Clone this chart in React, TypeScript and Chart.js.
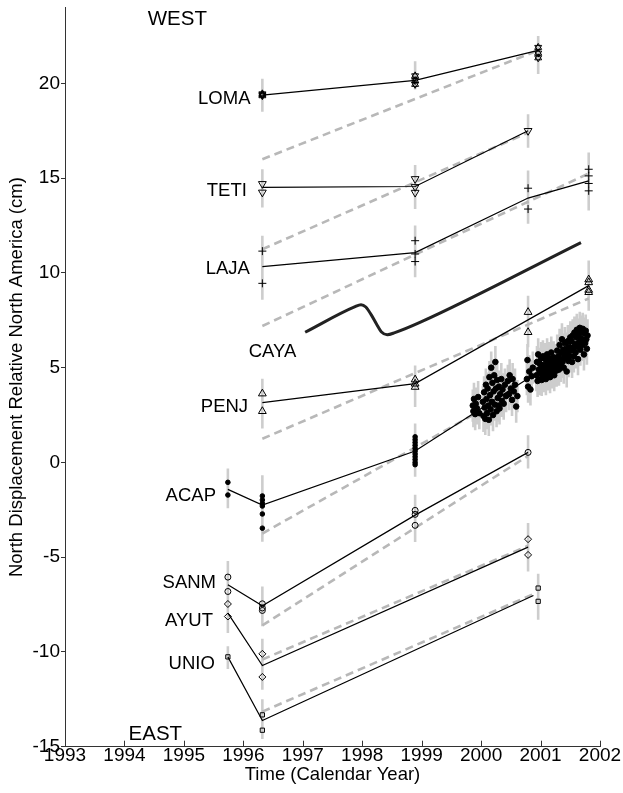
import React, { useEffect, useRef } from "react";
import { Chart, registerables } from "chart.js";

Chart.register(...registerables);

const FONT = '"Liberation Sans", Arial, Helvetica, sans-serif';
const AXIS_COLOR = "#333333";

// ---------- axes ----------
const X_MIN = 1993;
const X_MAX = 2002;
const Y_MIN = -15;
const Y_MAX = 24;
const Y_STEP = 5;
const X_TITLE = "Time (Calendar Year)";
const Y_TITLE = "North Displacement Relative North America (cm)";

// ---------- data: [year, north cm] ----------
const lomaObs = [
  [1996.32, 19.45], [1996.32, 19.35], [1996.32, 19.4],
  [1998.89, 20.4], [1998.89, 20.15], [1998.89, 19.95],
  [2000.96, 21.9], [2000.96, 21.6], [2000.96, 21.35],
];
const lomaModel = [[1996.32, 19.38], [1998.89, 20.16], [2000.96, 21.74]];
const lomaRef = [[1996.32, 16.0], [2000.9, 21.67]];
const lomaErr = [[1996.32, 18.5, 20.25], [1998.89, 19.68, 21.17], [2000.96, 20.5, 22.5]];

const tetiObs = [
  [1996.32, 14.7], [1996.32, 14.25],
  [1998.89, 14.96], [1998.89, 14.54], [1998.89, 14.24],
  [2000.79, 17.5],
];
const tetiModel = [[1996.32, 14.51], [1998.89, 14.56], [2000.79, 17.5]];
const tetiRef = [[1996.32, 11.25], [2000.79, 17.4]];
const tetiErr = [[1996.32, 13.45, 15.47], [1998.89, 13.37, 15.7], [2000.79, 16.6, 18.37]];

const lajaObs = [
  [1996.32, 11.15], [1996.32, 9.45],
  [1998.89, 11.7], [1998.89, 11.0], [1998.89, 10.6],
  [2000.79, 14.47], [2000.79, 13.37],
  [2001.81, 15.47], [2001.81, 15.12], [2001.81, 14.72], [2001.81, 14.33],
];
const lajaModel = [[1996.32, 10.33], [1998.89, 11.07], [2000.79, 13.95], [2001.81, 14.86]];
const lajaRef = [[1996.32, 7.2], [2001.81, 15.25]];
const lajaErr = [[1996.32, 8.58, 11.96], [1998.89, 9.77, 12.5], [2000.79, 12.6, 15.4], [2001.81, 13.3, 16.35]];

const cayaCurve = [
  [1997.04, 6.87], [1997.88, 8.22], [1997.98, 8.32], [1998.06, 8.2], [1998.15, 7.8],
  [1998.24, 7.3], [1998.32, 6.9], [1998.42, 6.74], [1998.55, 6.85], [1998.98, 7.4],
  [2001.68, 11.6],
];

const penjObs = [
  [1996.32, 3.63], [1996.32, 2.7],
  [1998.89, 4.37], [1998.89, 4.15], [1998.89, 3.98],
  [2000.79, 7.93], [2000.79, 6.87],
  [2001.81, 9.65], [2001.81, 9.5], [2001.81, 9.1], [2001.81, 8.98],
];
const penjModel = [[1996.32, 3.16], [1998.89, 4.16], [2001.81, 9.33]];
const penjRef = [[1996.32, 1.25], [2001.81, 8.65]];
const penjErr = [[1996.32, 1.79, 4.42], [1998.89, 2.93, 5.12], [2000.79, 6.08, 8.8], [2001.81, 8.0, 10.65]];

const acapObs = [
  [1995.74, -1.05], [1995.74, -1.72],
  [1996.32, -1.77], [1996.32, -1.98], [1996.32, -2.16], [1996.32, -2.3], [1996.32, -2.72], [1996.32, -3.47],
  [1998.89, 1.35], [1998.89, 1.2], [1998.89, 1.05], [1998.89, 0.9], [1998.89, 0.75], [1998.89, 0.6],
  [1998.89, 0.45], [1998.89, 0.3], [1998.89, 0.15], [1998.89, 0.0], [1998.89, -0.12],
];
const acapModel = [[1995.74, -1.42], [1996.32, -2.25], [1998.89, 0.6], [2001.0, 4.85]];
const acapRef = [[1996.32, -3.75], [2000.0, 2.75]];
const acapErr = [[1995.74, -2.42, -0.32], [1996.32, -4.18, -0.67], [1998.89, -0.76, 2.05]];

// continuous GPS at ACAP
const acapCgps = [
  [1999.86, 3.0], [1999.87, 2.7], [1999.88, 3.35], [1999.9, 2.55], [1999.91, 3.1], [1999.93, 2.85], [1999.95, 3.45], [1999.97, 2.6],
  [2000.03, 3.2], [2000.04, 2.45], [2000.05, 3.7], [2000.06, 2.9], [2000.07, 2.3], [2000.08, 4.1], [2000.09, 3.35], [2000.1, 2.6],
  [2000.11, 3.9], [2000.12, 3.0], [2000.13, 2.25], [2000.14, 4.5], [2000.15, 3.55], [2000.16, 2.8], [2000.17, 5.0], [2000.18, 3.2],
  [2000.19, 4.2], [2000.2, 2.5], [2000.21, 3.75], [2000.22, 4.6], [2000.23, 3.05], [2000.24, 5.3], [2000.25, 3.9], [2000.26, 2.7],
  [2000.27, 4.35], [2000.28, 3.4], [2000.29, 3.0], [2000.3, 4.0], [2000.31, 2.85], [2000.32, 3.6], [2000.34, 4.4], [2000.35, 3.25],
  [2000.36, 3.85], [2000.38, 3.1], [2000.4, 4.1], [2000.42, 3.5],
  [2000.45, 4.3], [2000.47, 3.6], [2000.48, 4.6], [2000.5, 3.9], [2000.52, 3.3], [2000.53, 4.4], [2000.55, 3.75], [2000.57, 4.1],
  [2000.59, 2.95], [2000.61, 3.5],
  [2000.77, 4.4], [2000.78, 5.4], [2000.79, 4.0], [2000.81, 4.8], [2000.83, 3.85], [2000.85, 4.55], [2000.87, 5.0],
  [2000.93, 4.6], [2000.94, 5.3], [2000.95, 4.3], [2000.96, 5.7], [2000.97, 4.9], [2000.98, 4.4], [2000.99, 5.2], [2001.0, 4.7],
  [2001.01, 5.5], [2001.02, 4.35], [2001.03, 5.0], [2001.04, 5.6], [2001.05, 4.55], [2001.06, 5.15], [2001.07, 4.8], [2001.08, 5.45],
  [2001.09, 4.4], [2001.1, 5.0], [2001.11, 5.7], [2001.12, 4.65], [2001.13, 5.25], [2001.14, 4.9], [2001.15, 5.5], [2001.16, 4.5],
  [2001.17, 5.1], [2001.18, 5.8], [2001.19, 4.75], [2001.2, 5.3], [2001.21, 4.95], [2001.22, 5.55], [2001.23, 4.6], [2001.24, 5.2],
  [2001.25, 5.0], [2001.26, 5.4], [2001.27, 4.85], [2001.28, 5.9], [2001.29, 5.2], [2001.3, 5.6], [2001.31, 4.9], [2001.32, 6.2],
  [2001.33, 5.45], [2001.34, 5.1], [2001.35, 5.8], [2001.36, 6.5], [2001.37, 5.3], [2001.38, 5.95], [2001.39, 5.0], [2001.4, 5.65],
  [2001.41, 6.3], [2001.42, 5.5], [2001.43, 6.0], [2001.44, 4.8], [2001.45, 5.75], [2001.46, 6.4], [2001.47, 5.35], [2001.48, 6.1],
  [2001.49, 5.6], [2001.5, 6.6], [2001.51, 5.9], [2001.52, 6.4], [2001.53, 5.3], [2001.54, 6.7], [2001.55, 6.05], [2001.56, 5.6],
  [2001.57, 6.85], [2001.58, 6.25], [2001.59, 5.8], [2001.6, 6.6], [2001.61, 7.0], [2001.62, 6.1], [2001.63, 5.45], [2001.64, 6.75],
  [2001.65, 6.35], [2001.66, 7.1], [2001.67, 5.95], [2001.68, 6.55], [2001.69, 6.9], [2001.7, 6.2], [2001.71, 7.05], [2001.72, 6.45],
  [2001.73, 5.7], [2001.74, 6.8], [2001.75, 6.3], [2001.76, 6.95], [2001.77, 6.5], [2001.78, 6.0], [2001.79, 6.7],
];
const acapCgpsSigma = 0.85;

const sanmObs = [
  [1995.74, -6.05], [1995.74, -6.81],
  [1996.32, -7.46], [1996.32, -7.68], [1996.32, -7.81],
  [1998.89, -2.53], [1998.89, -2.74], [1998.89, -3.32],
  [2000.79, 0.53],
];
const sanmModel = [[1995.74, -6.46], [1996.32, -7.56], [1998.89, -2.78], [2000.79, 0.53]];
const sanmRef = [[1996.32, -8.6], [2000.79, 0.35]];
const sanmErr = [[1995.74, -7.5, -5.2], [1996.32, -8.65, -6.55], [1998.89, -4.2, -1.7], [2000.79, -0.32, 1.44]];

const ayutObs = [
  [1995.74, -7.47], [1995.74, -8.13],
  [1996.32, -10.1], [1996.32, -11.32],
  [2000.79, -4.05], [2000.79, -4.88],
];
const ayutModel = [[1995.74, -7.95], [1996.32, -10.72], [2000.79, -4.47]];
const ayutRef = [[1996.32, -10.4], [2000.79, -4.4]];
const ayutErr = [[1995.74, -9.0, -6.8], [1996.32, -12.0, -9.3], [2000.79, -5.76, -3.2]];

const unioObs = [
  [1995.74, -10.26],
  [1996.32, -13.32], [1996.32, -14.13],
  [2000.96, -6.63], [2000.96, -7.33],
];
const unioModel = [[1995.74, -10.26], [1996.32, -13.62], [2000.88, -7.02]];
const unioRef = [[1996.32, -13.15], [2000.88, -6.95]];
const unioErr = [[1995.74, -10.9, -9.7], [1996.32, -14.6, -12.5], [2000.96, -8.3, -5.88]];

// station names and their anchor (year, cm)
const stationLabels = [
  { text: "LOMA", year: 1996.12, value: 19.18, align: "right" },
  { text: "TETI", year: 1996.06, value: 14.31, align: "right" },
  { text: "LAJA", year: 1996.11, value: 10.19, align: "right" },
  { text: "CAYA", year: 1996.49, value: 5.84, align: "center" },
  { text: "PENJ", year: 1996.08, value: 2.93, align: "right" },
  { text: "ACAP", year: 1995.54, value: -1.77, align: "right" },
  { text: "SANM", year: 1995.54, value: -6.34, align: "right" },
  { text: "AYUT", year: 1995.49, value: -8.35, align: "right" },
  { text: "UNIO", year: 1995.52, value: -10.65, align: "right" },
];
const directionLabels = [
  { text: "WEST", year: 1994.89, value: 23.38, align: "center" },
  { text: "EAST", year: 1994.52, value: -14.35, align: "center" },
];

// ---------- helpers ----------
const pts = (arr: number[][]) => arr.map(([x, y]) => ({ x, y }));
const errPts = (arr: number[][]) =>
  arr.flatMap(([x, lo, hi]) => [{ x, y: lo }, { x, y: hi }, { x, y: null as any }]);

const allErr = [
  ...lomaErr, ...tetiErr, ...lajaErr, ...penjErr, ...acapErr, ...sanmErr, ...ayutErr, ...unioErr,
  ...acapCgps.map(([t, n]) => [t, n - acapCgpsSigma, n + acapCgpsSigma]),
];

const dashed = (arr: number[][]) => ({
  data: pts(arr),
  showLine: true,
  borderColor: "#b8b8b8",
  borderWidth: 2.6,
  borderDash: [8, 5],
  pointRadius: 0,
  order: 8,
});
const solid = (arr: number[][]) => ({
  data: pts(arr),
  showLine: true,
  borderColor: "#000000",
  borderWidth: 1.2,
  pointRadius: 0,
  order: 5,
});
const markers = (arr: number[][], style: string, radius: number, rotation = 0, fill = "rgba(0,0,0,0)") => ({
  data: pts(arr),
  showLine: false,
  pointStyle: style,
  pointRadius: radius,
  pointRotation: rotation,
  pointBorderColor: "#000000",
  pointBorderWidth: 1,
  pointBackgroundColor: fill,
  order: 1,
});

const overlayPlugin = {
  id: "overlay",
  afterDatasetsDraw(chart: any) {
    const { ctx, chartArea, scales } = chart;
    const x = scales.x;
    const y = scales.y;
    ctx.save();
    ctx.strokeStyle = AXIS_COLOR;
    ctx.lineWidth = 1;
    x.ticks.forEach((t: any) => {
      const px = Math.round(x.getPixelForValue(t.value)) + 0.5;
      ctx.beginPath();
      ctx.moveTo(px, chartArea.bottom);
      ctx.lineTo(px, chartArea.bottom - 6);
      ctx.stroke();
    });
    ctx.fillStyle = "#000000";
    ctx.textBaseline = "middle";
    ctx.font = `18.5px ${FONT}`;
    stationLabels.forEach((l) => {
      ctx.textAlign = l.align;
      ctx.fillText(l.text, x.getPixelForValue(l.year), y.getPixelForValue(l.value));
    });
    ctx.font = `20.5px ${FONT}`;
    directionLabels.forEach((l) => {
      ctx.textAlign = l.align;
      ctx.fillText(l.text, x.getPixelForValue(l.year), y.getPixelForValue(l.value));
    });
    ctx.restore();
  },
};

export default function App() {
  const ref = useRef<HTMLCanvasElement | null>(null);
  useEffect(() => {
    if (!ref.current) return;
    const datasets: any[] = [
      {
        data: errPts(allErr),
        showLine: true,
        spanGaps: false,
        borderColor: "#cdcdcd",
        borderWidth: 2.6,
        pointRadius: 0,
        order: 10,
      },
      dashed(lomaRef), dashed(tetiRef), dashed(lajaRef), dashed(penjRef),
      dashed(acapRef), dashed(sanmRef), dashed(ayutRef), dashed(unioRef),
      {
        data: pts(cayaCurve),
        showLine: true,
        borderColor: "#222222",
        borderWidth: 3,
        cubicInterpolationMode: "monotone",
        pointRadius: 0,
        order: 6,
      },
      solid(lomaModel), solid(tetiModel), solid(lajaModel), solid(penjModel),
      solid(acapModel), solid(sanmModel), solid(ayutModel), solid(unioModel),
      markers(lomaObs, "triangle", 4, 0),
      markers(lomaObs, "triangle", 4, 180),
      markers(tetiObs, "triangle", 4.5, 180),
      markers(lajaObs, "cross", 4),
      markers(penjObs, "triangle", 4.5, 0),
      markers(acapObs, "circle", 2.3, 0, "#000000"),
      markers(acapCgps, "circle", 2.8, 0, "#000000"),
      markers(sanmObs, "circle", 3),
      markers(ayutObs, "rectRot", 3.5),
      markers(unioObs, "rect", 3),
    ];
    const chart = new Chart(ref.current, {
      type: "scatter",
      data: { datasets },
      options: {
        responsive: false,
        animation: false,
        events: [],
        layout: { padding: { top: 7.6, right: 23, left: 0, bottom: 0 } },
        plugins: { legend: { display: false }, tooltip: { enabled: false } },
        scales: {
          x: {
            type: "linear",
            min: X_MIN,
            max: X_MAX,
            grid: { display: false },
            border: { display: true, color: AXIS_COLOR, width: 1 },
            ticks: {
              stepSize: 1,
              autoSkip: false,
              maxRotation: 0,
              padding: -10,
              color: "#000000",
              font: { family: FONT, size: 19 },
              callback: (v: any) => String(v),
            },
            title: {
              display: true,
              text: X_TITLE,
              color: "#000000",
              font: { family: FONT, size: 18.5 },
              padding: { top: 0, bottom: 6.5 },
            },
            afterFit: (s: any) => {
              s.height = 46.3;
              s.paddingLeft = 0;
              s.paddingRight = 0;
            },
          },
          y: {
            type: "linear",
            min: Y_MIN,
            max: Y_MAX,
            grid: { display: true, drawOnChartArea: false, drawTicks: true, tickLength: 4, color: AXIS_COLOR },
            border: { display: true, color: AXIS_COLOR, width: 1 },
            ticks: {
              stepSize: Y_STEP,
              padding: 1,
              color: "#000000",
              font: { family: FONT, size: 19 },
              callback: (v: any) => String(v),
            },
            afterBuildTicks: (s: any) => {
              s.ticks = s.ticks.filter((t: any) => t.value % Y_STEP === 0);
            },
            title: {
              display: true,
              text: Y_TITLE,
              color: "#000000",
              font: { family: FONT, size: 18.5 },
              padding: { top: 5.5, bottom: 0 },
            },
            afterFit: (s: any) => {
              s.width = 65;
              s.paddingTop = 0;
              s.paddingBottom = 0;
            },
          },
        },
      },
      plugins: [overlayPlugin],
    } as any);
    return () => chart.destroy();
  }, []);
  return (
    <div style={{ position: "absolute", left: 0, top: 0, width: 623, height: 793 }}>
      <canvas ref={ref} width={623} height={793} style={{ display: "block" }} />
    </div>
  );
}
